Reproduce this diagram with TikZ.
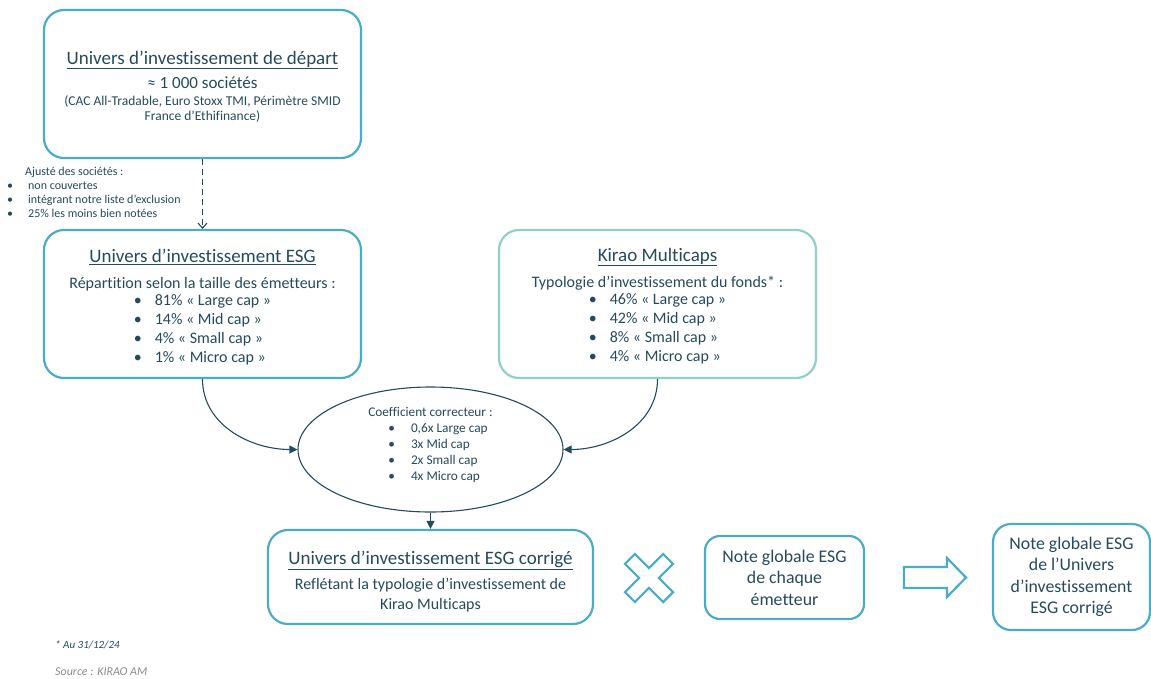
\documentclass[tikz,border=0pt]{standalone}
\usepackage{fontspec}
\setmainfont{Carlito}[Ligatures=NoCommon]
\usetikzlibrary{shapes.geometric,arrows.meta}
\definecolor{boxblue}{HTML}{4BACC6}
\definecolor{boxmint}{HTML}{8FD1C7}
\definecolor{inkteal}{HTML}{254A5A}
\definecolor{srcgrey}{HTML}{8C8C8C}
\newcommand{\bul}{\textbullet}
\newcommand{\topgap}[1]{\rule{0pt}{#1}}

\begin{document}
\begin{tikzpicture}[x=1pt, y=-1pt,
  box/.style={draw=boxblue, line width=2.2pt, rounded corners=20pt, align=center, text=inkteal, inner sep=0pt,
    font=\fontsize{16}{19}\selectfont},
  link/.style={draw=inkteal, line width=1.1pt, -{Triangle[length=8pt,width=8pt]}}]
  \useasboundingbox (0,0) rectangle (1151,678);

  \node[box, minimum width=317pt, minimum height=148pt, font=\fontsize{13.5}{15}\selectfont] (depart) at (202.5,84)
    {\fontsize{19}{22}\selectfont\topgap{19pt}\underline{Univers d’investissement de départ}\\[7pt]
     \fontsize{17}{20}\selectfont ≈ 1 000 sociétés\\[2pt]
     (CAC All-Tradable, Euro Stoxx TMI, Périmètre SMID\\
     France d’Ethifinance)};

  \node[box, minimum width=317pt, minimum height=148pt] (esg) at (202.5,304)
    {\fontsize{19}{22}\selectfont\topgap{22pt}\underline{Univers d’investissement ESG}\\[7pt]
     Répartition selon la taille des émetteurs :\\
     \begin{tabular}{@{}l@{\hspace{13pt}}l@{}}
       \bul & 81\% «~Large cap~»\\
       \bul & 14\% «~Mid cap~»\\
       \bul & 4\% «~Small cap~»\\
       \bul & 1\% «~Micro cap~»
     \end{tabular}};

  \node[box, draw=boxmint, minimum width=317pt, minimum height=148pt] (kirao) at (657.5,304)
    {\fontsize{19}{22}\selectfont\topgap{20pt}\underline{Kirao Multicaps}\\[7pt]
     Typologie d’investissement du fonds* :\\
     \begin{tabular}{@{}l@{\hspace{13pt}}l@{}}
       \bul & 46\% «~Large cap~»\\
       \bul & 42\% «~Mid cap~»\\
       \bul & 8\% «~Small cap~»\\
       \bul & 4\% «~Micro cap~»
     \end{tabular}};

  % coefficient correcteur
  \node[ellipse, draw=inkteal, line width=1.1pt, minimum width=265pt, minimum height=125pt, inner sep=0pt,
    text=inkteal, font=\fontsize{13.3}{16}\selectfont] (coef) at (430.5,449.5)
    {\begin{tabular}{@{}l@{}}
       Coefficient correcteur :\\
       \hspace{20pt}\bul\hspace{16pt}0,6x Large cap\\
       \hspace{20pt}\bul\hspace{16pt}3x Mid cap\\
       \hspace{20pt}\bul\hspace{16pt}2x Small cap\\
       \hspace{20pt}\bul\hspace{16pt}4x Micro cap\\[8pt]
     \end{tabular}};

  \node[box, minimum width=325pt, minimum height=94pt, font=\fontsize{16}{20}\selectfont] (corr) at (430.5,577)
    {\fontsize{19}{22}\selectfont\topgap{22pt}\underline{Univers d’investissement ESG corrigé}\\[5pt]
     Reflétant la typologie d’investissement de\\
     Kirao Multicaps};

  \node[box, rounded corners=15pt, minimum width=159pt, minimum height=83pt,
    font=\fontsize{17.8}{21.5}\selectfont] (note) at (784.5,577.5)
    {Note globale ESG\\ de chaque\\ émetteur};

  \node[box, rounded corners=18pt, minimum width=157pt, minimum height=106pt,
    font=\fontsize{17.8}{21.5}\selectfont] (final) at (1071.5,577)
    {Note globale ESG\\ de l’Univers\\ d’investissement\\ ESG corrigé};

  \node[anchor=north west, inner sep=0pt, text=inkteal, font=\fontsize{12}{14}\selectfont] (ajust) at (7,165)
    {\begin{tabular}{@{}l@{}}
       \hspace{18pt}Ajusté des sociétés :\\
       \bul\hspace{15pt}non couvertes\\
       \bul\hspace{15pt}intégrant notre liste d’exclusion\\
       \bul\hspace{15pt}25\% les moins bien notées
     \end{tabular}};

  \draw[link, dash pattern=on 6pt off 4pt, -{Straight Barb[length=5pt,width=9pt]}] (depart.south) -- (esg.north);
  \draw[link] (esg.south) to[out=-90, in=180] (coef.west);
  \draw[link] (kirao.south) to[out=-90, in=0] (coef.east);
  \draw[link] (coef.south) -- (corr.north);

  % signe multiplier
  \begin{scope}[shift={(649,578)}, rotate=45]
    \draw[boxblue, line width=2.2pt, line join=miter]
      (7,27) -- (7,7) -- (27,7) -- (27,-7) -- (7,-7) -- (7,-27) -- (-7,-27) -- (-7,-7)
      -- (-27,-7) -- (-27,7) -- (-7,7) -- (-7,27) -- cycle;
  \end{scope}
  % fleche creuse
  \draw[boxblue, line width=2.2pt, line join=miter]
    (904,567) -- (947,567) -- (947,558) -- (966,577.5) -- (947,597) -- (947,588) -- (904,588) -- cycle;

  \node[anchor=west, inner sep=0pt, text=inkteal, font=\fontsize{11}{12}\selectfont\itshape] (note1) at (55,645) {* Au 31/12/24};
  \node[anchor=west, inner sep=0pt, text=srcgrey, font=\fontsize{12}{14}\selectfont\itshape] (source) at (55,672) {Source : KIRAO AM};
\end{tikzpicture}
\end{document}
